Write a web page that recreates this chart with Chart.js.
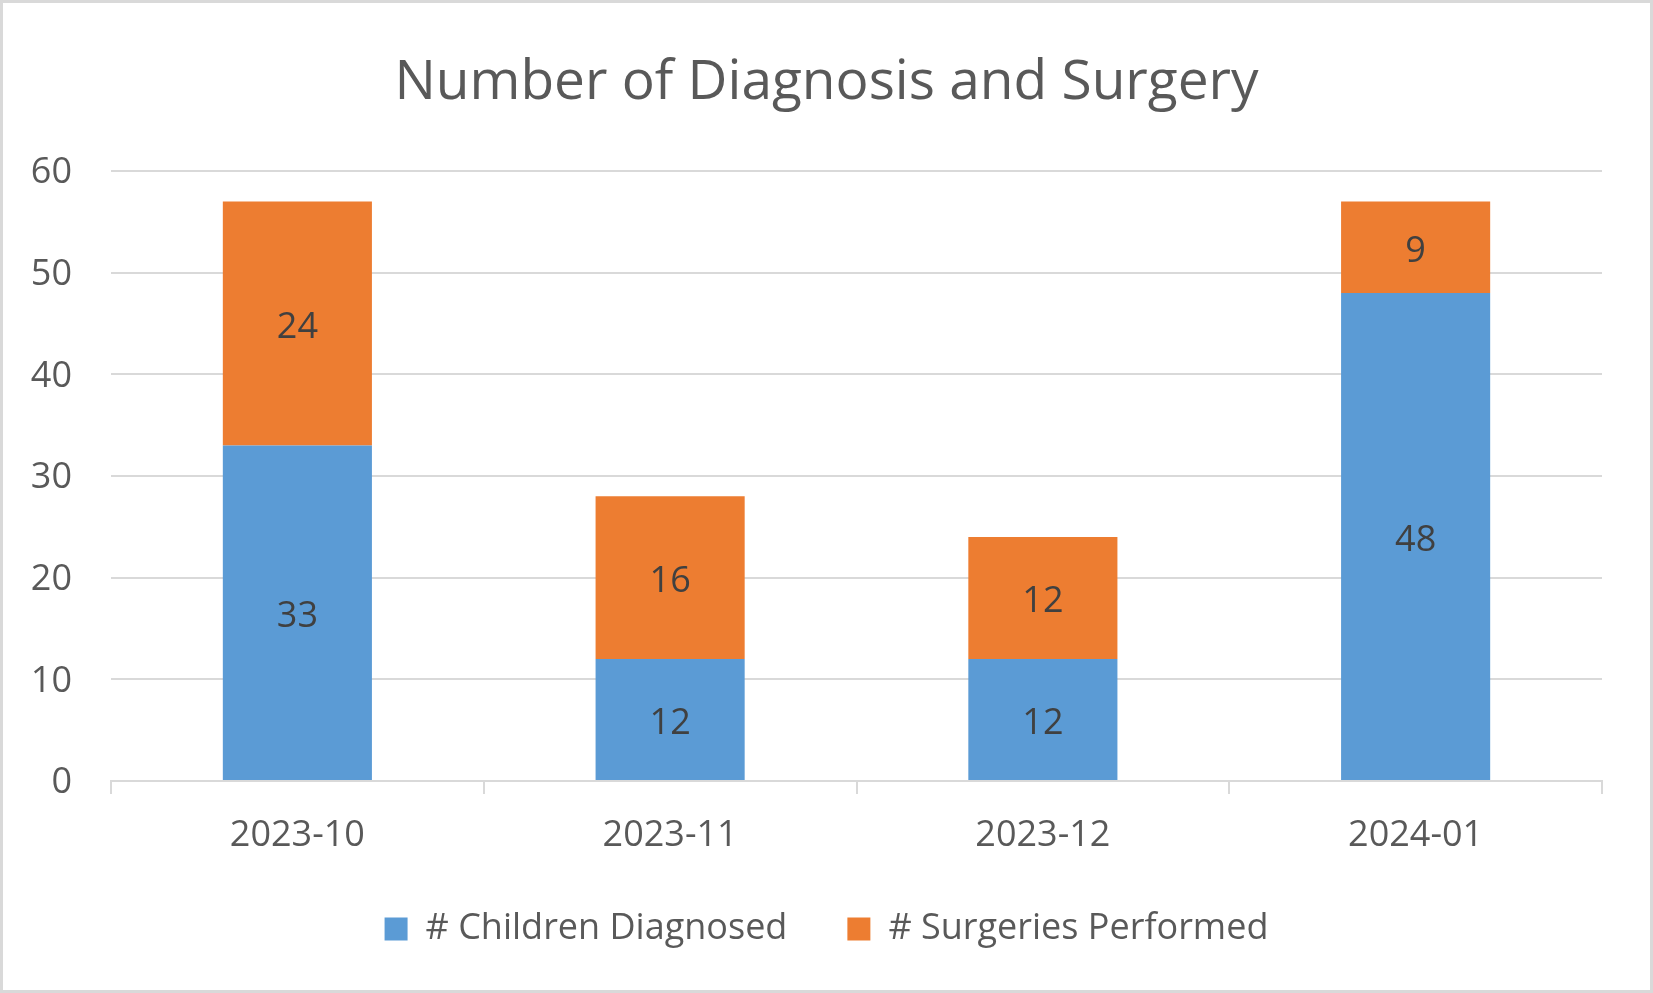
<!DOCTYPE html>
<html>
<head>
<meta charset="utf-8">
<script src="https://cdn.jsdelivr.net/npm/chart.js@4/dist/chart.umd.min.js"></script>
<style>
    html, body { margin: 0; padding: 0; background: #fff; }
    #frame {
        width: 1653px;
        height: 993px;
        box-sizing: border-box;
        border: 3px solid #d9d9d9;
        background: #fff;
    }
    #wrap { position: relative; width: 1647px; height: 987px; }
</style>
</head>
<body>
<div id="frame">
    <div id="wrap"><canvas id="chart"></canvas></div>
</div>
<script>
// Chart values
const months = ['2023-10', '2023-11', '2023-12', '2024-01'];
const childrenDiagnosed = [33, 12, 12, 48];
const surgeriesPerformed = [24, 16, 12, 9];
const yTicks = [0, 10, 20, 30, 40, 50, 60];

const FONT = "'Open Sans', 'Noto Sans', sans-serif";
const GREY = '#595959';
const LINE = '#d9d9d9';

// Writes each value in the middle of its own bar segment
const segmentLabels = {
    id: 'segmentLabels',
    afterDatasetsDraw(chart) {
        const ctx = chart.ctx;
        ctx.save();
        ctx.font = `36px ${FONT}`;
        ctx.fillStyle = '#404040';
        ctx.textAlign = 'center';
        ctx.textBaseline = 'middle';
        chart.data.datasets.forEach((ds, i) => {
            const meta = chart.getDatasetMeta(i);
            meta.data.forEach((bar, j) => {
                // open sans sits a little high on 'middle', nudge it down
                const mid = (bar.y + bar.base) / 2 + 4;
                ctx.fillText(String(ds.data[j]), bar.x, mid);
            });
        });
        ctx.restore();
    }
};

const ctx = document.getElementById('chart').getContext('2d');
const chart = new Chart(ctx, {
    type: 'bar',
    data: {
        labels: months,
        datasets: [{
            label: '# Children Diagnosed',
            data: childrenDiagnosed,
            backgroundColor: '#5b9bd5',
            borderWidth: 0
        }, {
            label: '# Surgeries Performed',
            data: surgeriesPerformed,
            backgroundColor: '#ed7d31',
            borderWidth: 0
        }]
    },
    options: {
        responsive: true,
        maintainAspectRatio: false,
        animation: false,
        devicePixelRatio: 1,
        categoryPercentage: 1,
        barPercentage: 0.4,
        layout: {
            padding: { left: 0, right: 0, top: 0, bottom: 33 }
        },
        plugins: {
            title: {
                display: true,
                text: 'Number of Diagnosis and Surgery',
                color: GREY,
                font: { family: FONT, size: 55, weight: 'normal' },
                padding: { top: 47, bottom: 55 }
            },
            legend: {
                position: 'bottom',
                labels: {
                    color: GREY,
                    font: { family: FONT, size: 36 },
                    boxWidth: 23,
                    boxHeight: 23,
                    padding: 60
                }
            },
            tooltip: { enabled: false }
        },
        scales: {
            x: {
                stacked: true,
                border: { display: true, color: LINE, width: 2 },
                grid: {
                    offset: true,
                    drawOnChartArea: false,
                    drawTicks: true,
                    tickLength: 13,
                    color: LINE,
                    lineWidth: 2
                },
                ticks: {
                    color: GREY,
                    font: { family: FONT, size: 36 },
                    padding: 20,
                    maxRotation: 0
                },
                // chart.js reserves the tick padding twice; keep the strip tight
                afterFit(scale) {
                    scale.height = 70;
                }
            },
            y: {
                stacked: true,
                min: yTicks[0],
                max: yTicks[yTicks.length - 1],
                border: { display: false },
                grid: { color: LINE, lineWidth: 2, drawTicks: false },
                ticks: {
                    stepSize: yTicks[1] - yTicks[0],
                    color: GREY,
                    font: { family: FONT, size: 36 },
                    padding: 39,
                    labelOffset: 2
                },
                afterFit(scale) {
                    scale.width = 108;
                }
            },
            // empty right-hand strip so the plot ends where the reference does
            yRight: {
                position: 'right',
                display: true,
                border: { display: false },
                grid: { drawOnChartArea: false, drawTicks: false },
                ticks: { display: false },
                afterFit(scale) {
                    scale.width = 48;
                }
            }
        }
    },
    plugins: [segmentLabels]
});
</script>
</body>
</html>
